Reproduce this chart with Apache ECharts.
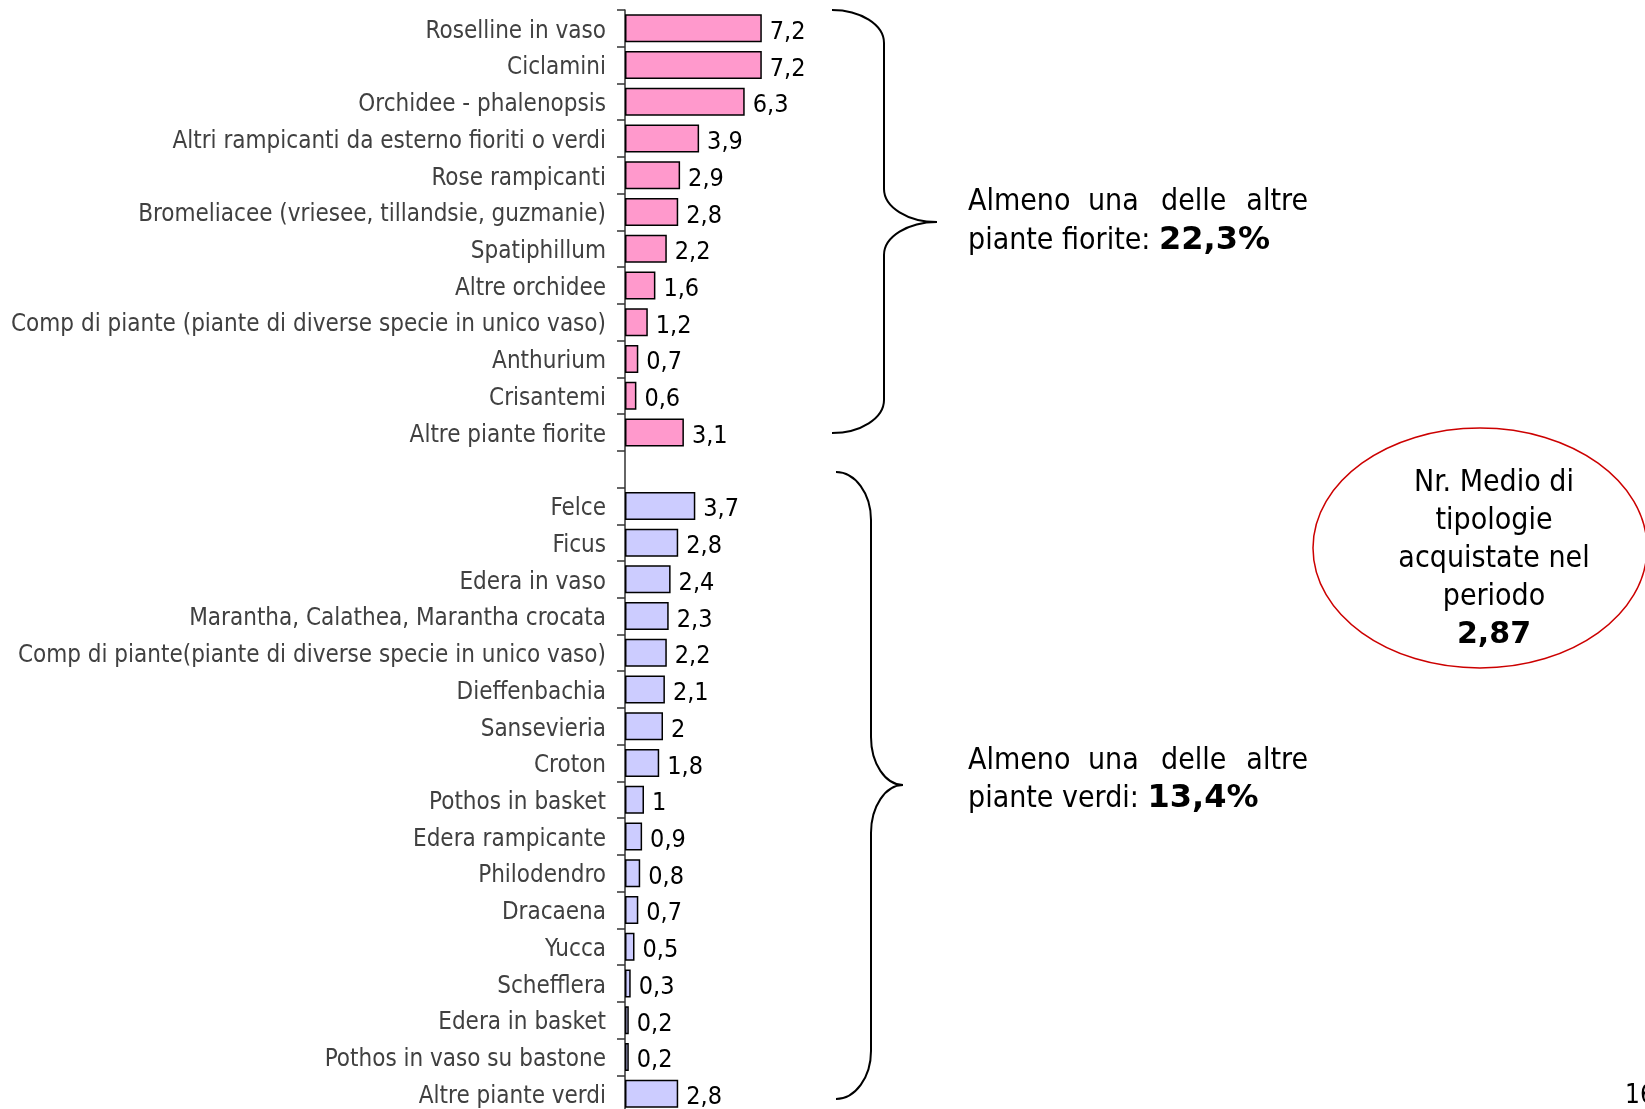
<!DOCTYPE html>
<html>
<head>
<meta charset="utf-8">
<script src="https://cdn.jsdelivr.net/npm/echarts@6/dist/echarts.min.js"></script>
<style>
html,body{margin:0;padding:0;background:#fff;}
#c{width:1645px;height:1109px;}
</style>
</head>
<body>
<div id="c"></div>
<script>
const categories = [
  'Roselline in vaso','Ciclamini','Orchidee - phalenopsis','Altri rampicanti da esterno fioriti o verdi',
  'Rose rampicanti','Bromeliacee (vriesee, tillandsie, guzmanie)','Spatiphillum','Altre orchidee',
  'Comp di piante (piante di diverse specie in unico vaso)','Anthurium','Crisantemi','Altre piante fiorite',
  '',
  'Felce','Ficus','Edera in vaso','Marantha, Calathea, Marantha crocata',
  'Comp di piante(piante di diverse specie in unico vaso)','Dieffenbachia','Sansevieria','Croton',
  'Pothos in basket','Edera rampicante','Philodendro','Dracaena','Yucca','Schefflera',
  'Edera in basket','Pothos in vaso su bastone','Altre piante verdi'
];
const fioriteValues = [7.2,7.2,6.3,3.9,2.9,2.8,2.2,1.6,1.2,0.7,0.6,3.1];
const verdiValues = [3.7,2.8,2.4,2.3,2.2,2.1,2,1.8,1,0.9,0.8,0.7,0.5,0.3,0.2,0.2,2.8];
const totalFiorite = '22,3%';
const totalVerdi = '13,4%';
const mediaTipologie = '2,87';
const pageNumber = '16';

const FONT = '"DejaVu Sans Condensed","DejaVu Sans",sans-serif';
const fioriteData = categories.map((c,i)=> i < fioriteValues.length ? fioriteValues[i] : '-');
const verdiData = categories.map((c,i)=> i > fioriteValues.length ? verdiValues[i - fioriteValues.length - 1] : '-');

const fmt = p => String(p.value).replace('.', ',');
const labelCfg = {show:true, position:'right', distance:8, color:'#000', fontSize:25, fontFamily:FONT, formatter:fmt, verticalAlign:'top', lineHeight:8};

const chart = echarts.init(document.getElementById('c'));
chart.setOption({
  animation:false,
  backgroundColor:'#fff',
  grid:{left:625, top:10, width:190, height:1102, outerBoundsMode:'none', containLabel:false},
  xAxis:{type:'value', min:0, max:10, show:false},
  yAxis:{
    type:'category', data:categories, inverse:true,
    axisLine:{lineStyle:{color:'#333', width:1.5}},
    axisTick:{show:true, length:8, lineStyle:{color:'#333', width:1.5}},
    axisLabel:{interval:0, margin:19, color:'#404040', fontSize:24, fontFamily:FONT, verticalAlign:'top', lineHeight:6},
    splitLine:{show:false}
  },
  series:[
    {type:'bar', stack:'s', data:fioriteData, barWidth:28,
     itemStyle:{color:'#FF99CC', borderColor:'#000', borderWidth:1.5}, label:labelCfg},
    {type:'bar', stack:'s', data:verdiData, barWidth:28,
     itemStyle:{color:'#CCCCFF', borderColor:'#000', borderWidth:1.5}, label:labelCfg}
  ]
});

const TS = 30;
function word(x, y, text, align){
  return {type:'text', x:x, y:y, style:{text:text, fill:'#000', fontSize:TS, fontFamily:FONT, align:align || 'left', verticalAlign:'middle'}};
}
function block(y1, y2, line2, bold){
  return [
    word(968, y1, 'Almeno'), word(1088, y1, 'una'), word(1161, y1, 'delle'), word(1308, y1, 'altre', 'right'),
    {type:'text', x:968, y:y2, style:{
      text:'{n|' + line2 + '}{b|' + bold + '}', verticalAlign:'middle', align:'left',
      rich:{n:{fontSize:TS, fontFamily:FONT, fill:'#000'}, b:{fontSize:32, fontFamily:'"DejaVu Sans",sans-serif', fontWeight:'bold', fill:'#000'}}
    }}
  ];
}

const braceStyle = {stroke:'#000', lineWidth:2, fill:null};
function brace(xe, xv, xt, y0, ym, y1, r){
  const k = 0.55;
  const bz = (x1,y1_,x2,y2,c1x,c1y,c2x,c2y)=>({type:'bezierCurve', shape:{x1:x1,y1:y1_,x2:x2,y2:y2,cpx1:c1x,cpy1:c1y,cpx2:c2x,cpy2:c2y}, style:braceStyle});
  const ln = (x1,y1_,x2,y2)=>({type:'line', shape:{x1:x1,y1:y1_,x2:x2,y2:y2}, style:braceStyle});
  return [
    bz(xe,y0, xv,y0+r, xe+(xv-xe)*k,y0, xv,y0+r*(1-k)),
    ln(xv,y0+r, xv,ym-r),
    bz(xv,ym-r, xt,ym, xv,ym-r*(1-k), xv+(xt-xv)*(1-k),ym),
    bz(xt,ym, xv,ym+r, xv+(xt-xv)*(1-k),ym, xv,ym+r*(1-k)),
    ln(xv,ym+r, xv,y1-r),
    bz(xv,y1-r, xe,y1, xv,y1-r*(1-k), xe+(xv-xe)*k,y1)
  ];
}

const graphics = [].concat(
  brace(832, 884, 937, 10, 222, 433, 33),
  brace(836, 871, 903, 472, 785, 1099, 48),
  [
    {type:'ellipse', shape:{cx:1480, cy:548, rx:167, ry:120}, style:{stroke:'#CC0000', lineWidth:1.5, fill:null}},
    {type:'text', x:1494, y:559, style:{
      text:'Nr. Medio di\ntipologie\nacquistate nel\nperiodo\n{b|' + mediaTipologie + '}',
      fontSize:TS, fontFamily:FONT, fill:'#000', align:'center', verticalAlign:'middle', lineHeight:38,
      rich:{b:{fontSize:TS, fontWeight:'bold', fontFamily:'"DejaVu Sans",sans-serif', fill:'#000', lineHeight:38}}
    }},
    {type:'text', x:1625, y:1096, style:{text:pageNumber, fontSize:26, fontFamily:FONT, fill:'#000', align:'left', verticalAlign:'middle'}}
  ],
  block(202, 241, 'piante fiorite: ', totalFiorite),
  block(761, 799, 'piante verdi: ', totalVerdi)
);

chart.setOption({graphic:graphics});
</script>
</body>
</html>
